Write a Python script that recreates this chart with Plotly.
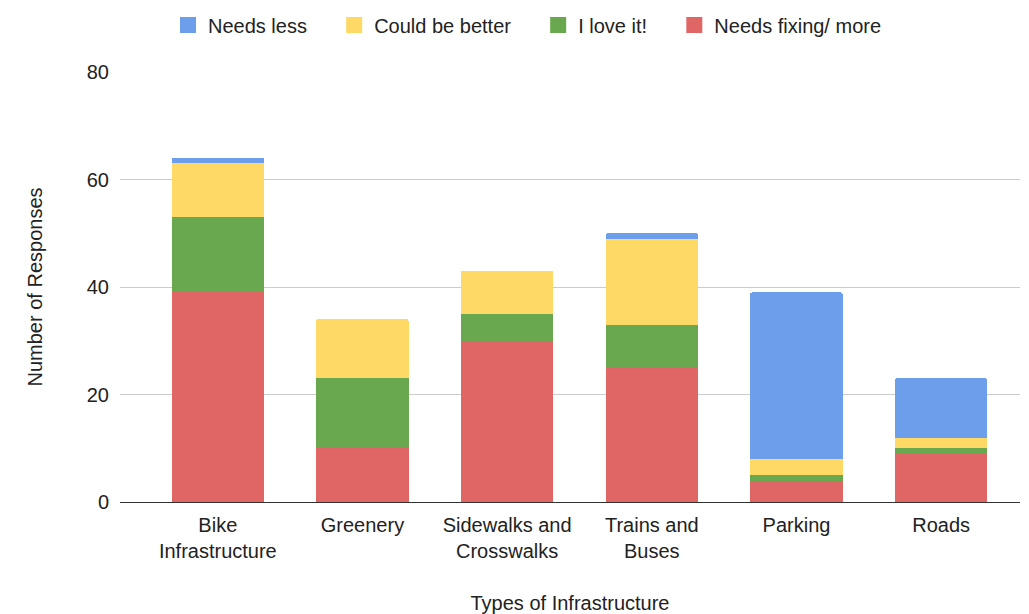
import plotly.graph_objects as go

categories = ["Bike<br>Infrastructure", "Greenery", "Sidewalks and<br>Crosswalks",
              "Trains and<br>Buses", "Parking", "Roads"]
needs_fixing = [39, 10, 30, 25, 4, 9]
love_it = [14, 13, 5, 8, 1, 1]
could_be_better = [10, 11, 8, 16, 3, 2]
needs_less = [1, 0, 0, 1, 31, 11]

series = [
    ("Needs fixing/ more", needs_fixing, "#e06666"),
    ("I love it!", love_it, "#6aa84f"),
    ("Could be better", could_be_better, "#ffd966"),
    ("Needs less", needs_less, "#6d9eeb"),
]

fig = go.Figure()
for name, vals, color in series:
    fig.add_trace(go.Bar(x=list(range(len(categories))), y=vals, name=name,
                         marker=dict(color=color, line=dict(width=0)), width=0.64,
                         showlegend=False, legendgroup=name))
# legend proxies (square swatches)
pad = "\u00a0" * 4
for name, vals, color in series:
    fig.add_trace(go.Scatter(x=[None], y=[None], mode="markers", name=name + pad,
                             legendgroup=name,
                             marker=dict(symbol="square", size=16, color=color)))

font = "Liberation Sans, Arial, sans-serif"
fig.update_layout(
    barmode="stack",
    width=1013, height=606,
    margin=dict(l=112, r=1, t=64, b=112),
    plot_bgcolor="white", paper_bgcolor="white",
    font=dict(family=font, size=20, color="#222222"),
    legend=dict(orientation="h", x=0.465, xanchor="center", y=1 - 17 / 606, yanchor="middle",
                yref="container", traceorder="reversed", font=dict(size=20),
                itemsizing="trace"),
    xaxis=dict(tickmode="array", tickvals=list(range(len(categories))), ticktext=categories,
               range=[-0.676, 5.545], showgrid=False, showline=True, linecolor="#333333",
               linewidth=1, ticks="", zeroline=False, ticklabelstandoff=5, automargin=False,
               title=dict(text="Types of Infrastructure", standoff=45, font=dict(size=20))),
    yaxis=dict(range=[0, 80], tickvals=[0, 20, 40, 60, 80], showgrid=True, gridcolor="#cccccc",
               zeroline=False, showline=False, ticks="", ticklabelstandoff=10, automargin=False,
               title=dict(text="Number of Responses", standoff=38, font=dict(size=20))),
    barcornerradius=2,
)
fig.write_html("out.html")
